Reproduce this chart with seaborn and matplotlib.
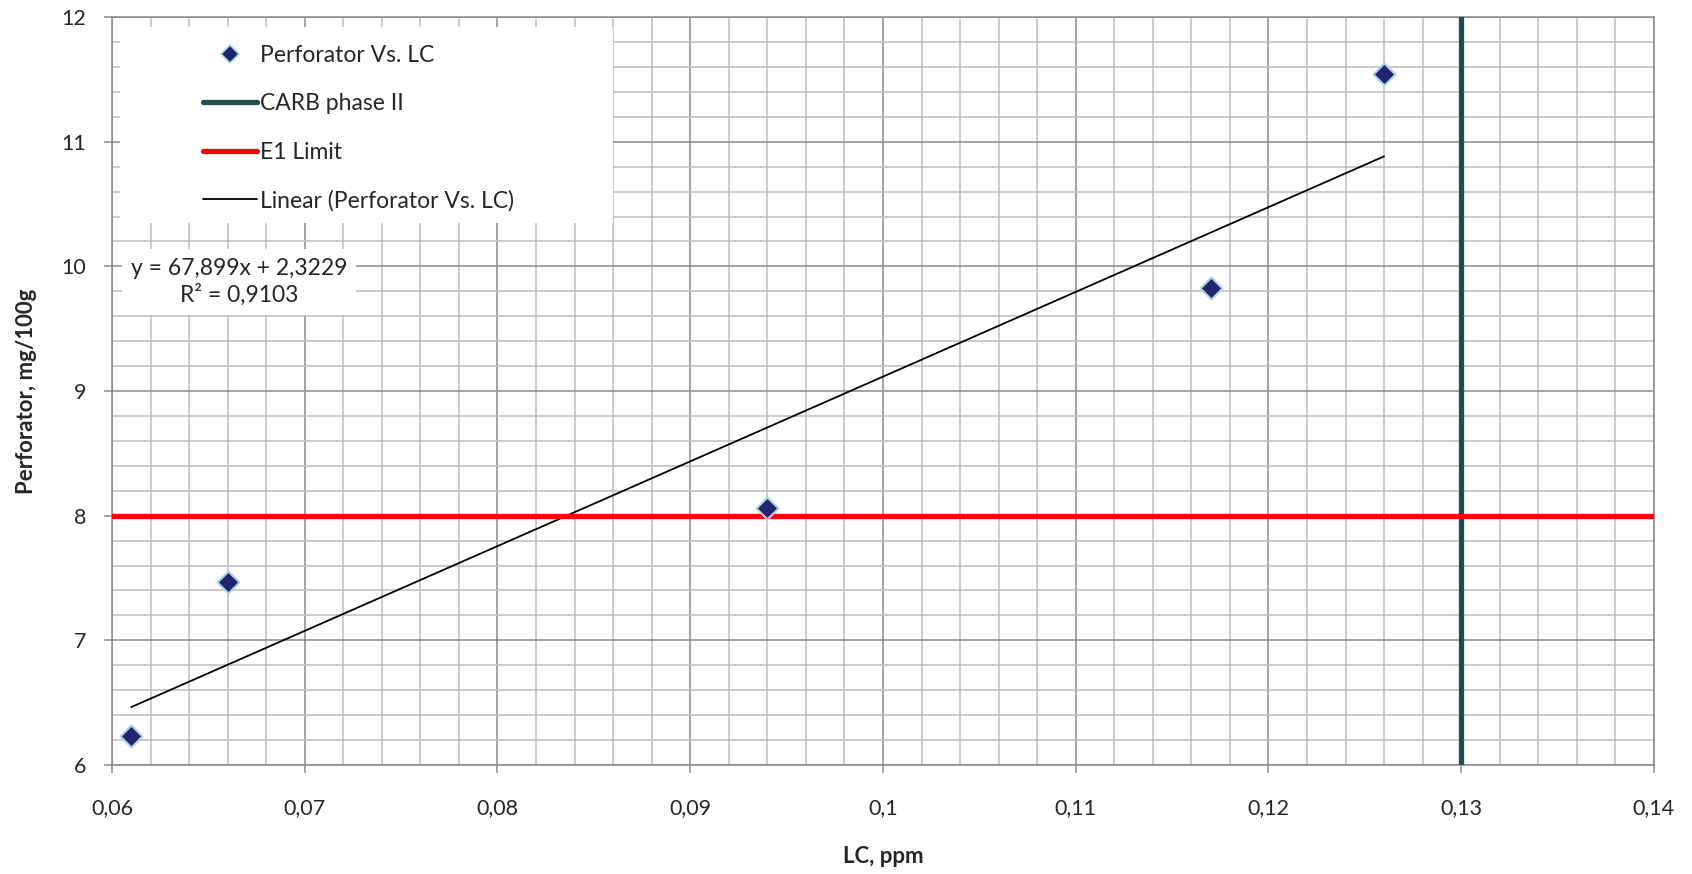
import numpy as np
import pandas as pd
import matplotlib
matplotlib.use('Agg')
import matplotlib.pyplot as plt
import seaborn as sns
from matplotlib.ticker import MultipleLocator, FuncFormatter
from matplotlib.lines import Line2D
from matplotlib.patches import Rectangle

# data
lc_ppm = [0.061, 0.066, 0.094, 0.117, 0.126]
perforator = [6.23, 7.47, 8.06, 9.83, 11.54]
carb_phase2 = 0.13
e1_limit = 8
eq_text = 'y = 67,899x + 2,3229\nR² = 0,9103'

df = pd.DataFrame({'LC': lc_ppm, 'Perf': perforator})

sns.set_style('white')
plt.rcParams['font.family'] = ['Lato', 'DejaVu Sans']

fig = plt.figure(figsize=(16.92, 8.74), dpi=100)
ax = fig.add_axes([0.0662, 0.1247, 0.9113, 0.8558])

# trend line (fitted by seaborn) and points
sns.regplot(data=df, x='LC', y='Perf', ax=ax, scatter=False, ci=None,
            color='black', line_kws={'lw': 1.3, 'zorder': 4})
sns.scatterplot(data=df, x='LC', y='Perf', ax=ax, marker='D', s=125,
                color='#232370', edgecolor='#a9d4e0', linewidth=1.5, zorder=6)

ax.axvline(carb_phase2, color='#1f4c4f', lw=3.8, zorder=5)
ax.axhline(e1_limit, color='#ff0000', lw=3.8, zorder=5)

ax.set_xlim(0.06, 0.14)
ax.set_ylim(6, 12)
ax.xaxis.set_major_locator(MultipleLocator(0.01))
ax.xaxis.set_minor_locator(MultipleLocator(0.002))
ax.yaxis.set_major_locator(MultipleLocator(1))
ax.yaxis.set_minor_locator(MultipleLocator(0.2))
comma = FuncFormatter(lambda v, p: '{:g}'.format(round(v, 4)).replace('.', ','))
ax.xaxis.set_major_formatter(comma)
ax.yaxis.set_major_formatter(comma)

ax.set_axisbelow(True)
ax.grid(which='minor', color='#bdbdbd', lw=1.1)
ax.grid(which='major', color='#8a8a8a', lw=1.1)
for s in ax.spines.values():
    s.set_color('#8a8a8a')
    s.set_linewidth(1.1)

ax.tick_params(which='major', direction='out', length=6, width=1.1, color='#8a8a8a',
               labelsize=15.5, bottom=True, left=True)
ax.tick_params(axis='y', pad=12.5)
ax.tick_params(axis='x', pad=18)
ax.tick_params(which='minor', length=0)

ax.set_xlabel('LC, ppm', fontsize=16, fontweight='bold', labelpad=20)
ax.set_ylabel('Perforator, mg/100g', fontsize=16, fontweight='bold', labelpad=18)

# legend background box
ax.add_patch(Rectangle((0.005, 0.725), 0.32, 0.262, transform=ax.transAxes,
                       facecolor='white', edgecolor='none', zorder=2))
handles = [
    Line2D([], [], ls='none', marker='D', ms=9, color='#232370', mec='#a9d4e0', mew=1.2),
    Line2D([], [], color='#1f4c4f', lw=3.8),
    Line2D([], [], color='#ff0000', lw=3.8),
    Line2D([], [], color='black', lw=1.3),
]
labels = ['Perforator Vs. LC', 'CARB phase II', 'E1 Limit', 'Linear (Perforator Vs. LC)']
ax.legend(handles, labels, loc='upper left', bbox_to_anchor=(0.0455, 0.99),
          frameon=False, fontsize=16.5, handlelength=2.36, handletextpad=0.15,
          labelspacing=1.19)

ax.text(0.0824, 0.6457, eq_text, transform=ax.transAxes, ha='center', va='center',
        fontsize=16.5, linespacing=1.27, zorder=7,
        bbox=dict(facecolor='white', edgecolor='none', pad=6.5))

fig.savefig('out.png', dpi=100)
